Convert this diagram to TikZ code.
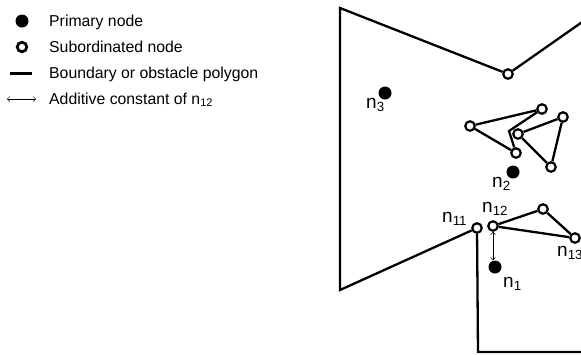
\documentclass[tikz,border=0pt]{standalone}
\usepackage{fontspec}
\setmainfont{Liberation Sans}
\usetikzlibrary{arrows.meta}

\begin{document}
\begin{tikzpicture}[x = 1pt, y = -1pt,
                    primary/.style = {circle,
                                      fill = black,
                                      inner sep = 0pt,
                                      minimum size = 13pt},
                    subord/.style = {circle,
                                     draw,
                                     fill = white,
                                     line width = 2.2pt,
                                     inner sep = 0pt,
                                     minimum size = 9.5pt},
                    boundary/.style = {line width = 2.3pt},
                    dim/.style = {{Straight Barb[length = 2.5pt, width = 5pt]}-{Straight Barb[length = 2.5pt, width = 5pt]},
                                  line width = 0.5pt},
                    lbl/.style = {font = \fontsize{19}{19}\selectfont,
                                  inner sep = 0pt,
                                  anchor = base west},
                    legend/.style = {font = \fontsize{15.8}{16}\selectfont,
                                     inner sep = 0pt,
                                     anchor = base west}]

\useasboundingbox (0,0) rectangle (581,354);
\clip (0,0) rectangle (581,354);

% legend
\node[primary] (kp) at (22,21) {};
\node[legend] (kpt) at (49,26) {Primary node};
\node[subord, line width = 2.8pt, minimum size = 9.5pt] (ks) at (22,47) {};
\node[legend] (kst) at (49,52) {Subordinated node};
\coordinate (kl1) at (10,73);
\coordinate (kl2) at (32,73);
\draw[boundary, line width = 3pt] (kl1) -- (kl2);
\node[legend] (klt) at (49,78) {Boundary or obstacle polygon};
\coordinate (ka1) at (7,99);
\coordinate (ka2) at (36,99);
\draw[dim] (ka1) -- (ka2);
\node[legend] (kat) at (49,104) {Additive constant of n\textsubscript{12}};

% boundary polygon
\coordinate (b1) at (340,8);
\node[subord] (bt) at (508,74) {};
\coordinate (b2) at (595,13);
\coordinate (b3) at (340,290);
\node[subord] (n11) at (477,228) {};
\coordinate (b4) at (478,352);
\coordinate (b5) at (595,352);
\draw[boundary] (b2) -- (bt) -- (b1) -- (b3) -- (n11) -- (b4) -- (b5);

% obstacles
\node[subord] (o1) at (470,126) {};
\node[subord] (o2) at (542,109) {};
\coordinate (o3) at (509,131);
\node[subord] (o4) at (516,153) {};
\draw[boundary] (o1) -- (o2) -- (o3) -- (o4) -- (o1);

\node[subord] (t1) at (518,134) {};
\node[subord] (t2) at (563,117) {};
\node[subord] (t3) at (551,167) {};
\draw[boundary] (t1) -- (t2) -- (t3) -- (t1);

\node[subord] (n12) at (493,226) {};
\node[subord] (q1) at (543,209) {};
\node[subord] (n13) at (575,238) {};
\draw[boundary] (n12) -- (q1) -- (n13) -- (n12);

% primary nodes
\node[primary] (n1) at (495,267) {};
\node[primary] (n2) at (513,172) {};
\node[primary] (n3) at (385,93) {};

\draw[dim] (n12) -- (n12 |- n1.north);

% labels
\node[lbl] (l3) at (366,108) {n\textsubscript{3}};
\node[lbl] (l2) at (492,187) {n\textsubscript{2}};
\node[lbl] (l1) at (503,287) {n\textsubscript{1}};
\node[lbl] (l11) at (442,222) {n\textsubscript{11}};
\node[lbl] (l12) at (482,212) {n\textsubscript{12}};
\node[lbl] (l13) at (557,256) {n\textsubscript{13}};

\end{tikzpicture}
\end{document}
